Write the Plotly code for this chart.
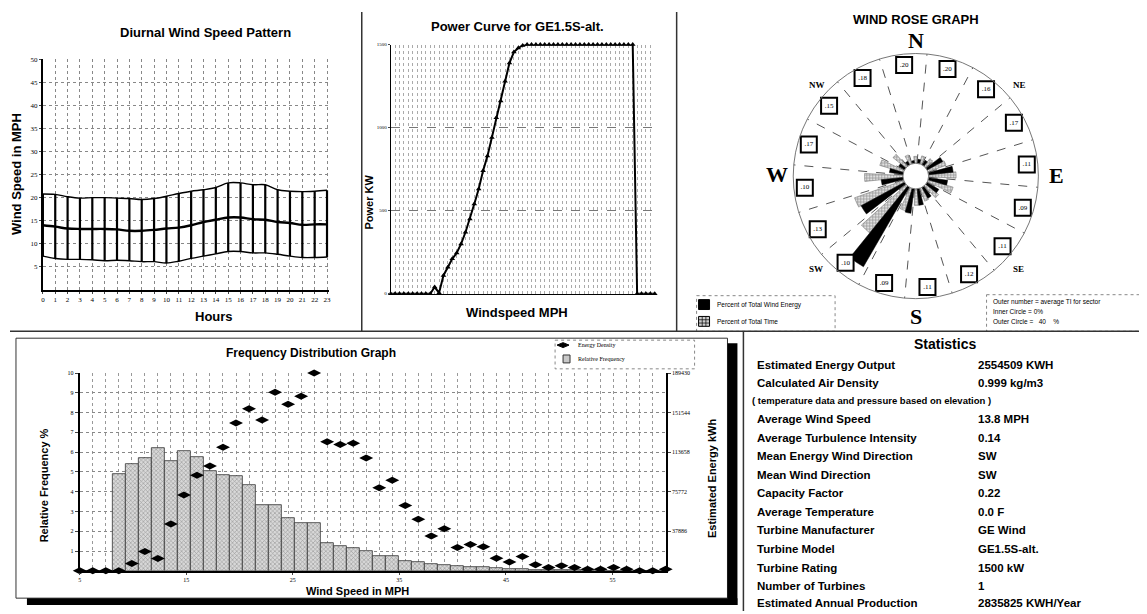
import plotly.graph_objects as go

# page body has an 8px margin: the figure starts 8px in and reaches the window's right/bottom edges
OFF = 8
W, H = 1147 - OFF, 614 - OFF
def px(x): return (x - OFF) / W
def py(y): return 1 - (y - OFF) / H

# ---------------- data ----------------
hours = list(range(24))
diurnal_mean = [14.0, 13.7, 13.3, 13.2, 13.2, 13.2, 13.1, 12.8, 12.8, 13.0, 13.3, 13.5,
                14.0, 14.7, 15.2, 15.7, 15.7, 15.3, 15.2, 14.7, 14.5, 14.1, 14.2, 14.2]
diurnal_upper = [20.8, 20.7, 20.2, 19.9, 20.0, 20.0, 19.9, 19.8, 19.6, 19.8, 20.3, 20.9,
                 21.4, 21.7, 22.2, 23.2, 23.2, 22.8, 22.8, 21.7, 21.4, 21.3, 21.4, 21.6]
diurnal_lower = [7.3, 6.8, 6.6, 6.6, 6.5, 6.3, 6.4, 6.3, 6.1, 6.1, 5.8, 6.2,
                 6.8, 7.3, 7.8, 8.3, 8.3, 8.0, 8.0, 7.7, 7.3, 7.0, 7.0, 7.1]
diurnal_yticks = [5, 10, 15, 20, 25, 30, 35, 40, 45, 50]

power_speed = list(range(61))
power_kw = ([0] * 10 + [40, 5, 110, 160, 210, 245, 300, 370, 450, 540, 630, 740, 830, 940,
            1060, 1160, 1280, 1390, 1455, 1480, 1495] + [1500] * 25 + [0] * 5)
power_yticks = [0, 500, 1000, 1500]

freq_speed = [round(5 + i * 55 / 45, 3) for i in range(46)]
rel_freq = [0, 0, 0, 4.88, 5.38, 5.72, 6.22, 5.55, 6.05, 5.77, 5.03, 4.83, 4.77, 4.33,
            3.33, 3.33, 2.68, 2.43, 2.43, 1.40, 1.27, 1.17, 1.00, 0.75, 0.72, 0.50,
            0.42, 0.33, 0.30, 0.25, 0.20, 0.17, 0.13, 0.10, 0.08, 0.06, 0.05, 0.04,
            0.03, 0.03, 0.02, 0, 0, 0, 0, 0]
energy_kwh = [0, 0, 0, 0, 7000, 18400, 11700, 44900, 72600, 91500, 100400, 118400,
              141500, 155300, 144500, 171000, 159500, 167300, 189430, 123700, 120900,
              122200, 108000, 79600, 86800, 62500, 49300, 33200, 40300, 22200, 25200,
              23100, 11900, 8500, 13600, 5700, 3200, 4700, 3200, 1500, 1500, 3200,
              1500, 0, 0, 1500]
freq_xticks = [5, 15, 25, 35, 45, 55]
freq_yticks = [1, 2, 3, 4, 5, 6, 7, 8, 9, 10]
energy_ticks = [37886, 75772, 113658, 151544, 189430]

directions = ['N', 'NNE', 'NE', 'ENE', 'E', 'ESE', 'SE', 'SSE',
              'S', 'SSW', 'SW', 'WSW', 'W', 'WNW', 'NW', 'NNW']
energy_pct = [1.0, 1.5, 2.0, 6.5, 9.0, 7.0, 5.0, 4.5, 6.0, 9.0, 33.5, 18.0, 8.0, 5.0, 2.5, 1.5]
time_pct = [2.5, 3.0, 3.5, 7.0, 10.0, 9.5, 6.0, 5.0, 6.0, 8.5, 22.0, 19.0, 14.0, 9.0, 6.0, 3.5]
ti_labels = ['.20', '.20', '.16', '.17', '.11', '.09', '.11', '.12',
             '.11', '.09', '.10', '.13', '.10', '.17', '.15', '.18']

stats_names = ['Estimated Energy Output', 'Calculated Air Density', None,
               'Average Wind Speed', 'Average Turbulence Intensity',
               'Mean Energy Wind Direction', 'Mean Wind Direction', 'Capacity Factor',
               'Average Temperature', 'Turbine Manufacturer', 'Turbine Model',
               'Turbine Rating', 'Number of Turbines', 'Estimated Annual Production']
stats_values = ['2554509 KWH', '0.999 kg/m3', None, '13.8 MPH', '0.14', 'SW', 'SW', '0.22',
                '0.0 F', 'GE Wind', 'GE1.5S-alt.', '1500 kW', '1', '2835825 KWH/Year']

sector_deg = [i * 22.5 for i in range(len(directions))]

# ---------------- figure ----------------
SANS = 'Liberation Sans, Arial, sans-serif'
SERIF = 'Liberation Serif, DejaVu Serif, serif'
fig = go.Figure()

# Diurnal
fig.add_trace(go.Scatter(x=hours, y=diurnal_upper, mode='lines', line=dict(color='black', width=1.4, shape='spline'),
                         xaxis='x', yaxis='y', showlegend=False))
fig.add_trace(go.Scatter(x=hours, y=diurnal_lower, mode='lines', line=dict(color='black', width=1.4, shape='spline'),
                         xaxis='x', yaxis='y', showlegend=False))
fig.add_trace(go.Scatter(x=hours, y=diurnal_mean, mode='lines', line=dict(color='black', width=2.4, shape='spline'),
                         error_y=dict(type='data', symmetric=False,
                                      array=[u - m for u, m in zip(diurnal_upper, diurnal_mean)],
                                      arrayminus=[m - l for m, l in zip(diurnal_mean, diurnal_lower)],
                                      color='black', thickness=2.2, width=0),
                         xaxis='x', yaxis='y', showlegend=False))

# Power curve
fig.add_trace(go.Scatter(x=power_speed, y=power_kw, mode='lines+markers',
                         line=dict(color='black', width=2),
                         marker=dict(symbol='triangle-up', size=5, color='black'),
                         xaxis='x2', yaxis='y2', showlegend=False, cliponaxis=False))

# Frequency distribution
fig.add_trace(go.Bar(x=freq_speed, y=rel_freq, width=55 / 45,
                     marker=dict(color='#cfcfcf', line=dict(color='#333', width=0.8),
                                 pattern=dict(shape='x', fgcolor='#555', bgcolor='#d8d8d8', size=3, solidity=0.35)),
                     xaxis='x3', yaxis='y3', showlegend=False))
fig.add_trace(go.Scatter(x=freq_speed, y=energy_kwh, mode='markers',
                         marker=dict(symbol='diamond-wide', size=10, color='black'),
                         xaxis='x3', yaxis='y4', showlegend=False, cliponaxis=False))

# Wind rose
fig.add_trace(go.Barpolar(r=time_pct, theta=[d + 4.5 for d in sector_deg], width=[9] * 16,
                          marker=dict(color='#d5d5d5', line=dict(color='#666', width=0.5),
                                      pattern=dict(shape='+', fgcolor='#444', bgcolor='#e0e0e0', size=3, solidity=0.4)),
                          subplot='polar', showlegend=False))
fig.add_trace(go.Barpolar(r=energy_pct, theta=[d - 4.5 for d in sector_deg], width=[9] * 16,
                          marker=dict(color='black', line=dict(color='black', width=0.5)),
                          subplot='polar', showlegend=False))
fig.add_trace(go.Scatterpolar(r=[36] * 16, theta=sector_deg, mode='markers+text', text=ti_labels,
                              textfont=dict(family=SERIF, size=7, color='black'),
                              marker=dict(symbol='square', size=16, color='white', line=dict(color='black', width=2)),
                              subplot='polar', showlegend=False))

grid_dot = dict(showgrid=True, gridcolor='#888', griddash='dot', gridwidth=1)

fig.update_layout(
    width=W, height=H, margin=dict(l=0, r=0, t=0, b=0),
    paper_bgcolor='white', plot_bgcolor='white', bargap=0,
    xaxis=dict(domain=[px(41), px(328)], anchor='y', range=[0, 23.15], tickvals=hours, **grid_dot,
               showline=True, linecolor='black', linewidth=2, zeroline=False,
               tickfont=dict(family=SERIF, size=7, color='black'), ticks='outside', ticklen=2),
    yaxis=dict(domain=[py(289), py(56)], anchor='x', range=[0, 50], tickvals=diurnal_yticks, **grid_dot,
               showline=True, linecolor='black', linewidth=2, zeroline=False,
               tickfont=dict(family=SERIF, size=7, color='black'), ticks='outside', ticklen=2),
    xaxis2=dict(domain=[px(390), px(655)], anchor='y2', range=[0, 60], dtick=1, showticklabels=False,
                showgrid=True, gridcolor='#aaa', griddash='dot', gridwidth=1,
                showline=True, linecolor='black', linewidth=1, zeroline=False),
    yaxis2=dict(domain=[py(293), py(41)], anchor='x2', range=[0, 1500], tickvals=power_yticks, showgrid=True,
                gridcolor='#777', griddash='dash', gridwidth=1, zeroline=False,
                showline=True, linecolor='black', linewidth=1,
                tickfont=dict(family=SERIF, size=5, color='black'), ticks='outside', ticklen=2),
    xaxis3=dict(domain=[px(78), px(666)], anchor='y3', range=[5, 60], tickvals=freq_xticks,
                showgrid=False, minor=dict(dtick=55 / 45, tick0=5, showgrid=True, gridcolor='#999', griddash='dot'),
                showline=True, linecolor='black', linewidth=1.5, zeroline=False,
                tickfont=dict(family=SERIF, size=6, color='black'), ticks='outside', ticklen=2),
    yaxis3=dict(domain=[py(573.3), py(373.3)], anchor='x3', range=[0, 10], tickvals=freq_yticks, **grid_dot,
                showline=True, linecolor='black', linewidth=2, zeroline=False,
                tickfont=dict(family=SERIF, size=6, color='black'), ticks='outside', ticklen=3),
    yaxis4=dict(overlaying='y3', side='right', anchor='x3', range=[0, 189430], tickvals=energy_ticks,
                tickformat='d', showgrid=False, showline=True, linecolor='black', linewidth=2, zeroline=False,
                tickfont=dict(family=SERIF, size=6, color='black'), ticks='outside', ticklen=3),
    polar=dict(domain=dict(x=[px(917 - 124), px(917 + 124)], y=[py(174 + 124), py(174 - 124)]),
               hole=0.105, bgcolor='white',
               radialaxis=dict(range=[0, 40], visible=False),
               angularaxis=dict(rotation=96, direction='clockwise',
                                tickvals=[11.25 + 22.5 * i for i in range(16)], showticklabels=False, ticks='',
                                showgrid=True, gridcolor='#555', griddash='dash', gridwidth=1,
                                showline=True, linecolor='#777', linewidth=1)),
)

ann = []
def T(x, y, text, size=12, bold=True, family=SANS, xanchor='center', yanchor='middle', angle=0):
    ann.append(dict(x=px(x), y=py(y), xref='paper', yref='paper', showarrow=False,
                    text=('<b>%s</b>' % text) if bold else text, textangle=angle,
                    font=dict(family=family, size=size, color='black'),
                    xanchor=xanchor, yanchor=yanchor))

# panel titles / axis titles
T(204, 29, 'Diurnal Wind Speed Pattern', 13)
T(213, 316, 'Hours', 13)
T(14, 172, 'Wind Speed in MPH', 13, angle=-90)
T(517, 23, 'Power Curve for GE1.5S-alt.', 13)
T(517, 312, 'Windspeed MPH', 13)
T(368, 200, 'Power KW', 11, angle=-90)
T(917, 16, 'WIND ROSE GRAPH', 13)
T(310, 353, 'Frequency Distribution Graph', 12)
T(357, 594, 'Wind Speed in MPH', 11)
T(43, 487, 'Relative Frequency %', 11, angle=-90)
T(712, 480, 'Estimated Energy kWh', 11, angle=-90)

# compass
T(917, 37, 'N', 22, family=SERIF)
T(917, 316, 'S', 22, family=SERIF)
T(1058, 173, 'E', 22, family=SERIF)
T(778, 172, 'W', 22, family=SERIF)
T(1021, 82, 'NE', 9, family=SERIF)
T(818, 82, 'NW', 9, family=SERIF)
T(1020, 268, 'SE', 9, family=SERIF)
T(817, 268, 'SW', 9, family=SERIF)

# rose legends
T(715, 304, 'Percent of Total Wind Energy', 6.5, bold=False, xanchor='left')
T(715, 321, 'Percent of Total Time', 6.5, bold=False, xanchor='left')
T(992, 301, 'Outer number = average TI for sector', 6.5, bold=False, xanchor='left')
T(992, 311, 'Inner Circle = 0%', 6.5, bold=False, xanchor='left')
T(992, 321, 'Outer Circle =   40    %', 6.5, bold=False, xanchor='left')

# frequency legend
T(576, 345, 'Energy Density', 6, bold=False, family=SERIF, xanchor='left')
T(576, 359, 'Relative Frequency', 6, bold=False, family=SERIF, xanchor='left')

# statistics
T(946, 344, 'Statistics', 14)
row_y = [365, 383.5, 401.5, 420, 438.5, 457, 476, 494.5, 513.5, 532, 551, 570, 588.5, 606]
for yy, nm, val in zip(row_y, stats_names, stats_values):
    if nm is None:
        T(751, yy, '( temperature data and pressure based on elevation )', 9.5, xanchor='left')
    else:
        T(756, yy, nm, 11.5, xanchor='left')
        T(977, yy, val, 11.5, xanchor='left')

fig.update_layout(annotations=ann)

shapes = []
def R(x0, y0, x1, y1, line=None, fill=None, dash=None, layer='below'):
    shapes.append(dict(type='rect', xref='paper', yref='paper', x0=px(x0), x1=px(x1), y0=py(y0), y1=py(y1),
                       line=dict(color=line or 'rgba(0,0,0,0)', width=1 if line else 0, dash=dash or 'solid'),
                       fillcolor=fill or 'rgba(0,0,0,0)', layer=layer))
def L(x0, y0, x1, y1, color='black', width=1.5):
    shapes.append(dict(type='line', xref='paper', yref='paper', x0=px(x0), x1=px(x1), y0=py(y0), y1=py(y1),
                       line=dict(color=color, width=width)))

# dashboard frame
L(361, 8, 361, 331, '#333', 1.5)
L(677, 8, 677, 331, '#333', 1.5)
L(8, 331, 1147, 331, '#333', 1.5)
L(744, 331, 744, 614, '#333', 1.5)
# frequency panel box + shadow
R(14, 338, 728, 601, line='#333')
R(728, 343, 738, 608, fill='black', layer='above')
R(25, 601, 738, 608, fill='black', layer='above')
# frequency legend box
R(555, 340, 695, 369, line='#888', dash='dot', fill='white', layer='above')
shapes.append(dict(type='path', xref='paper', yref='paper', layer='above',
                   path='M %f %f L %f %f L %f %f L %f %f Z' % (px(557), py(345), px(563), py(342.5), px(569), py(345), px(563), py(347.5)),
                   fillcolor='black', line=dict(color='black', width=1)))
R(563, 355, 570, 363, line='#333', fill='#c8c8c8', layer='above')
# rose legend boxes
R(697, 295, 836, 331, line='#888', dash='dot')
R(988, 294, 1145, 331, line='#888', dash='dot')
R(699, 299, 710, 309, fill='black', line='black')
R(699, 316, 710, 326, fill='#cccccc', line='black')
for k in range(1, 3):
    L(699 + k * 11 / 3, 316, 699 + k * 11 / 3, 326, 'black', 0.7)
    L(699, 316 + k * 10 / 3, 710, 316 + k * 10 / 3, 'black', 0.7)

fig.update_layout(shapes=shapes)
fig.write_html('out.html')
